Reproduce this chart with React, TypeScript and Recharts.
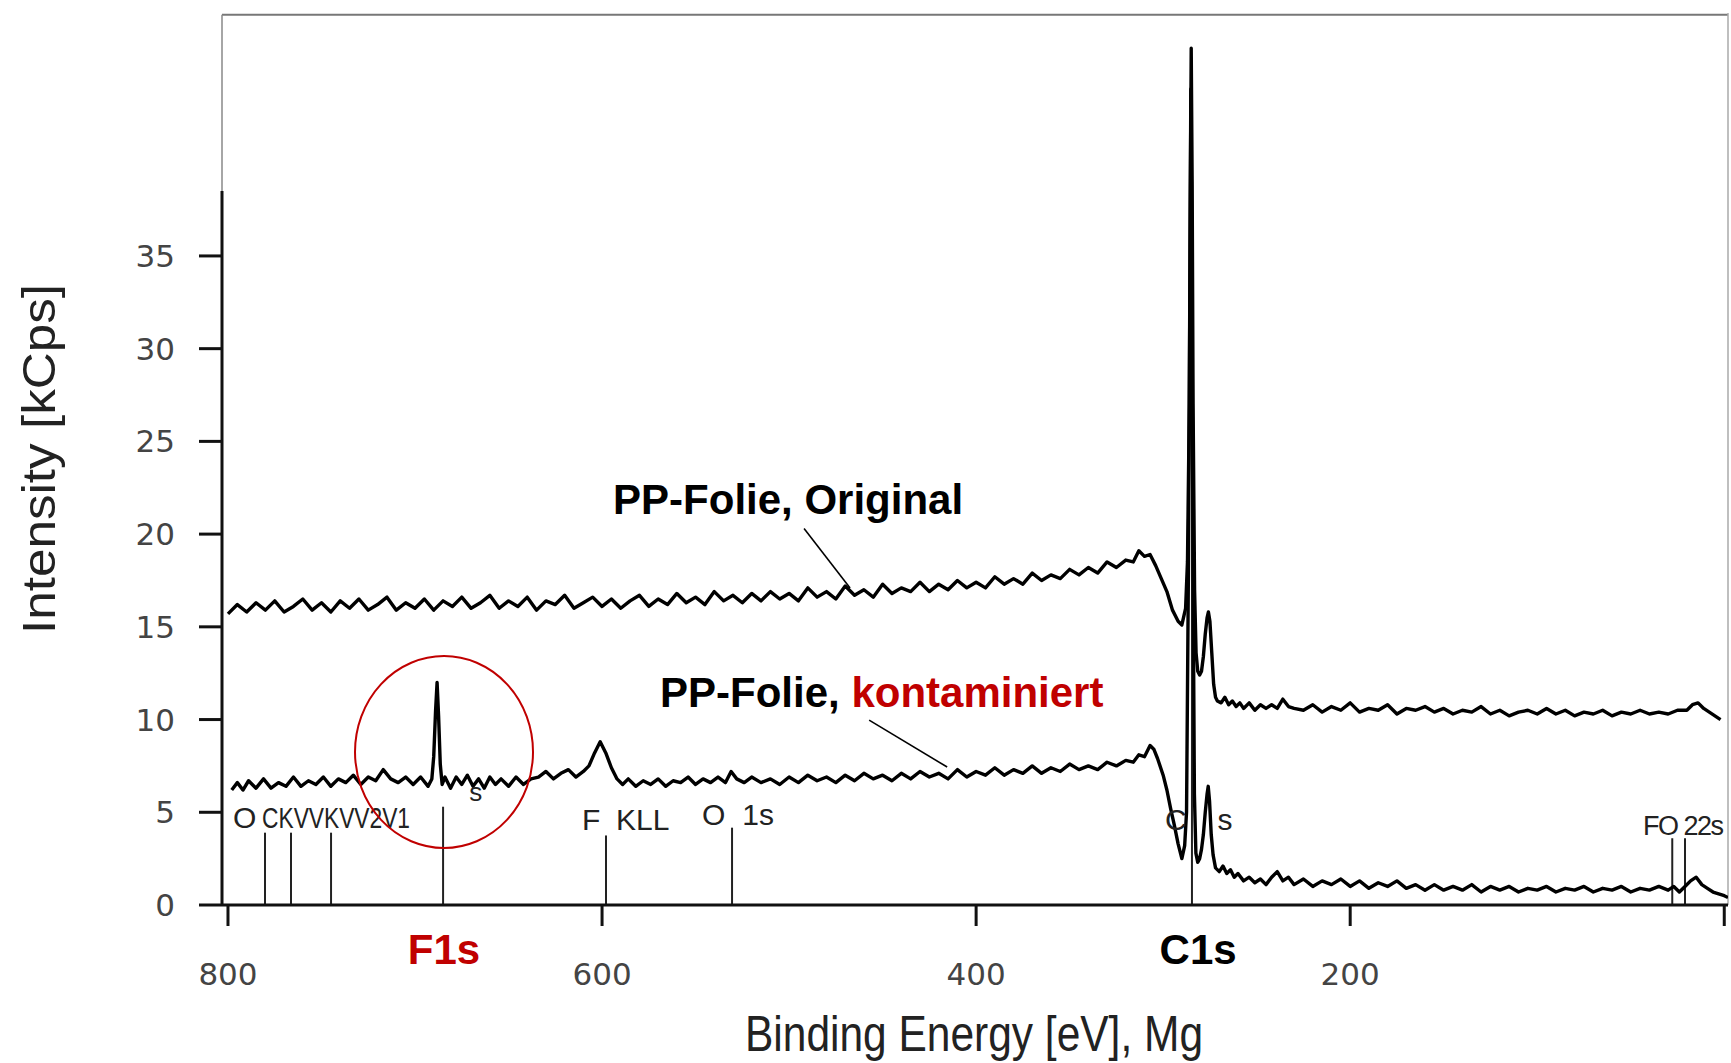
import { Label, Line, LineChart, ReferenceDot, ReferenceLine, XAxis, YAxis } from "recharts";

const energyTicks = [800, 600, 400, 200, 0];
const intensityTicks = [0, 5, 10, 15, 20, 25, 30, 35];

// [binding energy (eV), intensity (kCps)]
const originalSpectrum: [number, number][] = [
  [800, 15.7], [795, 16.2], [790, 15.8], [785, 16.3], [780, 15.9], [775, 16.4], [770, 15.8], [765, 16.1],
  [760, 16.5], [755, 15.9], [750, 16.3], [745, 15.8], [740, 16.4], [735, 16.0], [730, 16.5], [725, 15.9],
  [720, 16.2], [715, 16.6], [710, 15.9], [705, 16.3], [700, 16.0], [695, 16.5], [690, 15.9], [685, 16.4],
  [680, 16.1], [675, 16.6], [670, 16.0], [665, 16.3], [660, 16.7], [655, 16.0], [650, 16.4], [645, 16.1],
  [640, 16.6], [635, 15.9], [630, 16.4], [625, 16.2], [620, 16.7], [615, 16.0], [610, 16.3], [605, 16.6],
  [600, 16.1], [595, 16.5], [590, 16.0], [585, 16.4], [580, 16.7], [575, 16.1], [570, 16.5], [565, 16.2],
  [560, 16.8], [555, 16.3], [550, 16.6], [545, 16.2], [540, 16.9], [535, 16.4], [530, 16.7], [525, 16.3],
  [520, 16.8], [515, 16.4], [510, 16.9], [505, 16.5], [500, 16.8], [495, 16.4], [490, 17.1], [485, 16.6],
  [480, 16.9], [475, 16.5], [470, 17.2], [465, 16.7], [460, 17.0], [455, 16.6], [450, 17.3], [445, 16.8],
  [440, 17.1], [435, 16.9], [430, 17.4], [425, 16.9], [420, 17.3], [415, 17.0], [410, 17.5], [405, 17.1],
  [400, 17.4], [395, 17.1], [390, 17.7], [385, 17.3], [380, 17.6], [375, 17.3], [370, 17.9], [365, 17.5],
  [360, 17.8], [355, 17.6], [350, 18.1], [345, 17.8], [340, 18.2], [335, 17.9], [330, 18.5], [325, 18.2],
  [320, 18.6], [316, 18.5], [313, 19.1], [310, 18.8], [307, 18.9], [304, 18.3], [301, 17.6], [298, 16.9],
  [295, 15.9], [292, 15.3], [290, 15.1], [288, 16.0], [287, 18.5], [286, 27], [285.5, 38], [285, 46.2],
  [284.5, 39], [284, 27], [283.2, 17], [282.4, 13.6], [281.5, 12.6], [280.5, 12.4], [279.5, 12.6],
  [278.5, 13.4], [277.5, 14.6], [276.5, 15.5], [275.8, 15.8], [275, 15.3], [274, 13.6], [273, 11.9],
  [272, 11.2], [271, 11.0], [269, 10.9], [267, 11.2], [265, 10.8], [263, 11.0], [261, 10.7], [259, 10.9],
  [257, 10.6], [254, 10.9], [251, 10.5], [248, 10.8], [245, 10.6], [242, 10.8], [239, 10.6], [236, 11.1],
  [233, 10.7], [230, 10.6], [225, 10.5], [220, 10.8], [215, 10.4], [210, 10.7], [205, 10.5], [200, 10.9],
  [195, 10.4], [190, 10.6], [185, 10.5], [180, 10.8], [175, 10.3], [170, 10.6], [165, 10.5], [160, 10.7],
  [155, 10.4], [150, 10.6], [145, 10.3], [140, 10.5], [135, 10.4], [130, 10.7], [125, 10.3], [120, 10.5],
  [115, 10.2], [110, 10.4], [105, 10.5], [100, 10.3], [95, 10.6], [90, 10.3], [85, 10.5], [80, 10.2],
  [75, 10.4], [70, 10.3], [65, 10.5], [60, 10.2], [55, 10.4], [50, 10.3], [45, 10.5], [40, 10.3],
  [35, 10.4], [30, 10.3], [25, 10.5], [20, 10.5], [17, 10.8], [14, 10.9], [11, 10.6], [8, 10.4],
  [5, 10.2], [2, 10.0],
];

const contaminatedSpectrum: [number, number][] = [
  [798, 6.2], [795, 6.6], [792, 6.2], [789, 6.7], [785, 6.3], [781, 6.8], [777, 6.3], [773, 6.6],
  [769, 6.4], [765, 6.9], [761, 6.4], [757, 6.7], [753, 6.5], [749, 6.9], [745, 6.4], [741, 6.8],
  [737, 6.6], [733, 7.0], [729, 6.5], [725, 6.9], [721, 6.7], [717, 7.3], [713, 6.8], [709, 6.6],
  [705, 6.9], [701, 6.5], [697, 6.9], [693, 6.4], [691, 6.8], [690, 8.0], [689, 10.5], [688.2, 12.0],
  [687.4, 10.2], [686.5, 7.6], [685.5, 6.5], [684, 6.9], [681, 6.3], [678, 6.9], [675, 6.5], [672, 7.0],
  [669, 6.4], [666, 6.8], [663, 6.3], [660, 6.9], [657, 6.5], [654, 6.8], [650, 6.4], [646, 6.9],
  [642, 6.5], [638, 6.8], [634, 6.9], [630, 7.2], [626, 6.8], [622, 7.1], [618, 7.3], [614, 6.9],
  [610, 7.2], [607, 7.5], [604, 8.2], [601, 8.8], [598, 8.2], [595, 7.4], [592, 6.8], [589, 6.5],
  [586, 6.8], [582, 6.4], [578, 6.7], [574, 6.5], [570, 6.8], [566, 6.4], [562, 6.7], [558, 6.6],
  [554, 6.9], [550, 6.5], [546, 6.8], [542, 6.6], [538, 6.9], [534, 6.6], [531, 7.2], [528, 6.8],
  [524, 6.6], [520, 6.9], [515, 6.6], [510, 6.8], [505, 6.5], [500, 6.9], [495, 6.6], [490, 7.0],
  [485, 6.7], [480, 6.9], [475, 6.6], [470, 7.0], [465, 6.7], [460, 7.1], [455, 6.8], [450, 7.0],
  [445, 6.7], [440, 7.1], [435, 6.8], [430, 7.2], [425, 6.9], [420, 7.1], [415, 6.8], [410, 7.3],
  [405, 6.9], [400, 7.2], [395, 7.0], [390, 7.4], [385, 7.0], [380, 7.3], [375, 7.1], [370, 7.5],
  [365, 7.1], [360, 7.4], [355, 7.2], [350, 7.6], [345, 7.3], [340, 7.5], [335, 7.3], [330, 7.7],
  [325, 7.5], [320, 7.8], [316, 7.7], [313, 8.1], [310, 8.0], [307, 8.6], [305, 8.4], [303, 7.9],
  [300, 7.0], [298, 6.2], [296, 5.2], [294, 4.3], [292, 3.3], [290, 2.5], [288.5, 3.2], [287.5, 5],
  [286.5, 18], [285.8, 32], [285.2, 44], [284.6, 33], [284, 18], [283.3, 6], [282.5, 2.8], [281.5, 2.3],
  [280.5, 2.5], [279.5, 3.0], [278.5, 3.8], [277.5, 5.0], [276.5, 6.0], [275.9, 6.4], [275.2, 5.6],
  [274.3, 3.8], [273.3, 2.7], [272, 2.0], [270, 1.8], [268, 2.1], [266, 1.7], [264, 1.9], [262, 1.5],
  [260, 1.7], [257, 1.3], [254, 1.5], [251, 1.2], [248, 1.4], [245, 1.1], [242, 1.5], [239, 1.8],
  [236, 1.3], [233, 1.5], [230, 1.1], [225, 1.4], [220, 1.0], [215, 1.3], [210, 1.1], [205, 1.4],
  [200, 1.0], [195, 1.3], [190, 0.9], [185, 1.2], [180, 1.0], [175, 1.3], [170, 0.9], [165, 1.1],
  [160, 0.8], [155, 1.1], [150, 0.8], [145, 1.0], [140, 0.8], [135, 1.1], [130, 0.7], [125, 1.0],
  [120, 0.8], [115, 1.0], [110, 0.7], [105, 0.9], [100, 0.8], [95, 1.0], [90, 0.7], [85, 0.9],
  [80, 0.8], [75, 1.0], [70, 0.7], [65, 0.9], [60, 0.8], [55, 1.0], [50, 0.7], [45, 0.9],
  [40, 0.8], [35, 1.0], [30, 0.8], [27, 1.0], [24, 0.7], [21, 1.0], [18, 1.3], [15, 1.5],
  [12, 1.1], [9, 0.9], [6, 0.7], [3, 0.6], [0, 0.5], [-2, 0.4],
];

// element reference lines (energy, height of the stick)
const markerLines = [
  { e: 780.2, top: 3.9 },
  { e: 766.3, top: 3.9 },
  { e: 744.9, top: 3.9 },
  { e: 685.0, top: 5.3 },
  { e: 597.9, top: 3.75 },
  { e: 530.5, top: 4.17 },
  { e: 284.6, top: 30 },
  { e: 27.8, top: 3.6 },
  { e: 21.0, top: 3.6 },
];

// squeeze = pixel width the crowded labels are packed into
const markerLabels = [
  { e: 797.3, v: 4.15, text: "O", size: 30, squeeze: 0, spacing: 0 },
  { e: 781.8, v: 4.15, text: "CKVVKVV2V1", size: 30, squeeze: 148, spacing: 0 },
  { e: 671, v: 5.6, text: "s", size: 26, squeeze: 0, spacing: 0 },
  { e: 610.7, v: 4.04, text: "F", size: 30, squeeze: 0, spacing: 0 },
  { e: 592.5, v: 4.04, text: "KLL", size: 30, squeeze: 0, spacing: 0 },
  { e: 546.5, v: 4.3, text: "O", size: 30, squeeze: 0, spacing: 0 },
  { e: 525, v: 4.3, text: "1s", size: 30, squeeze: 0, spacing: 0 },
  { e: 299, v: 4.04, text: "C", size: 30, squeeze: 0, spacing: 0 },
  { e: 271, v: 4.04, text: "s", size: 30, squeeze: 0, spacing: 0 },
  { e: 43.5, v: 3.77, text: "FO 22s", size: 27, squeeze: 0, spacing: -1.5 },
];

const originalData = originalSpectrum.map(([e, v]) => ({ e, v }));
const contaminatedData = contaminatedSpectrum.map(([e, v]) => ({ e, v }));

const RED = "#c00000";
const SANS = "'Liberation Sans', Arial, sans-serif";

function renderYTitle(props: any) {
  const vb = props.viewBox || { x: 0, y: 13, height: 892 };
  const cx = vb.x + 39;
  const cy = vb.y + vb.height / 2;
  return (
    <text
      x={cx}
      y={cy}
      transform={`rotate(-90 ${cx} ${cy})`}
      textAnchor="middle"
      dominantBaseline="central"
      fontFamily={SANS}
      fontSize={46}
      fill="#222"
      textLength={350}
      lengthAdjust="spacingAndGlyphs"
    >
      Intensity [kCps]
    </text>
  );
}

function renderXTitle(props: any) {
  const vb = props.viewBox || { x: 222, y: 905, width: 1506 };
  return (
    <text
      x={vb.x + vb.width / 2 - 1}
      y={vb.y + 146}
      textAnchor="middle"
      fontFamily={SANS}
      fontSize={50}
      fill="#222"
      textLength={458}
      lengthAdjust="spacingAndGlyphs"
    >
      Binding Energy [eV], Mg
    </text>
  );
}

export default function App() {
  return (
    <div style={{ position: "absolute", left: 0, top: 0, width: 1731, height: 1063, background: "#fff" }}>
      <style>{"body{margin:0;overflow:hidden;}"}</style>
      <LineChart width={1731} height={1063} margin={{ top: 13, right: 3, bottom: 0, left: 0 }}>
        <XAxis
          type="number"
          dataKey="e"
          domain={[-2, 803.2]}
          reversed
          allowDataOverflow
          ticks={energyTicks}
          tickFormatter={(t: number) => (t === 0 ? "" : String(t))}
          height={158}
          tickSize={21}
          tickMargin={37}
          axisLine={{ stroke: "#111", strokeWidth: 3 }}
          tickLine={{ stroke: "#111", strokeWidth: 3 }}
          tick={{ fill: "#444", fontSize: 31, fontFamily: "'DejaVu Sans', sans-serif" }}
        >
          <Label content={renderXTitle} />
        </XAxis>
        <YAxis
          type="number"
          domain={[0, 48.1]}
          allowDataOverflow
          ticks={intensityTicks}
          width={222}
          tickSize={23}
          tickMargin={24}
          axisLine={false}
          tickLine={{ stroke: "#111", strokeWidth: 3 }}
          tick={{ fill: "#444", fontSize: 31, fontFamily: "'DejaVu Sans', sans-serif" }}
        >
          <Label content={renderYTitle} />
        </YAxis>

        {/* frame */}
        <ReferenceLine y={48} stroke="#777" strokeWidth={2} />
        <ReferenceLine x={-2} stroke="#aaa" strokeWidth={1.5} />
        <ReferenceLine segment={[{ x: 803.2, y: 38.5 }, { x: 803.2, y: 48 }]} stroke="#888" strokeWidth={1.5} />
        <ReferenceLine segment={[{ x: 803.2, y: 0 }, { x: 803.2, y: 38.5 }]} stroke="#111" strokeWidth={3} />

        {markerLines.map((m) => (
          <ReferenceLine
            key={`m${m.e}`}
            segment={[{ x: m.e, y: 0 }, { x: m.e, y: m.top }]}
            stroke="#222"
            strokeWidth={2}
          />
        ))}

        {markerLabels.map((l, i) => (
          <ReferenceDot
            key={`l${i}`}
            x={l.e}
            y={l.v}
            r={1}
            shape={(p: any) => (
              <text
                x={p.cx}
                y={p.cy}
                fontFamily={SANS}
                fontSize={l.size}
                letterSpacing={l.spacing}
                fill="#222"
                {...(l.squeeze ? { textLength: l.squeeze, lengthAdjust: "spacingAndGlyphs" } : {})}
              >
                {l.text}
              </text>
            )}
          />
        ))}

        <Line
          data={originalData}
          dataKey="v"
          type="linear"
          stroke="#000"
          strokeWidth={3.4}
          strokeLinejoin="round"
          dot={false}
          isAnimationActive={false}
        />
        <Line
          data={contaminatedData}
          dataKey="v"
          type="linear"
          stroke="#000"
          strokeWidth={3.4}
          strokeLinejoin="round"
          dot={false}
          isAnimationActive={false}
        />

        {/* annotations */}
        <ReferenceLine segment={[{ x: 492, y: 20.3 }, { x: 467.4, y: 17.1 }]} stroke="#000" strokeWidth={1.6} />
        <ReferenceLine segment={[{ x: 457.2, y: 9.97 }, { x: 415.5, y: 7.44 }]} stroke="#000" strokeWidth={1.6} />
        <ReferenceDot
          x={594.1}
          y={21.1}
          r={1}
          shape={(p: any) => (
            <text x={p.cx} y={p.cy} fontFamily={SANS} fontWeight={700} fontSize={42} fill="#000">
              PP-Folie, Original
            </text>
          )}
        />
        <ReferenceDot
          x={569}
          y={10.7}
          r={1}
          shape={(p: any) => (
            <text x={p.cx} y={p.cy} fontFamily={SANS} fontWeight={700} fontSize={42} fill="#000">
              PP-Folie, <tspan fill={RED}>kontaminiert</tspan>
            </text>
          )}
        />
        <ReferenceDot
          x={684.5}
          y={8.25}
          r={1}
          shape={(p: any) => (
            <ellipse cx={p.cx} cy={p.cy} rx={89} ry={96} fill="none" stroke={RED} strokeWidth={2} />
          )}
        />
        <ReferenceDot
          x={684.5}
          y={-3.2}
          r={1}
          ifOverflow="visible"
          shape={(p: any) => (
            <text x={p.cx} y={p.cy} textAnchor="middle" fontFamily={SANS} fontWeight={700} fontSize={42} fill={RED}>
              F1s
            </text>
          )}
        />
        <ReferenceDot
          x={281.3}
          y={-3.2}
          r={1}
          ifOverflow="visible"
          shape={(p: any) => (
            <text x={p.cx} y={p.cy} textAnchor="middle" fontFamily={SANS} fontWeight={700} fontSize={42} fill="#000">
              C1s
            </text>
          )}
        />
      </LineChart>
    </div>
  );
}
